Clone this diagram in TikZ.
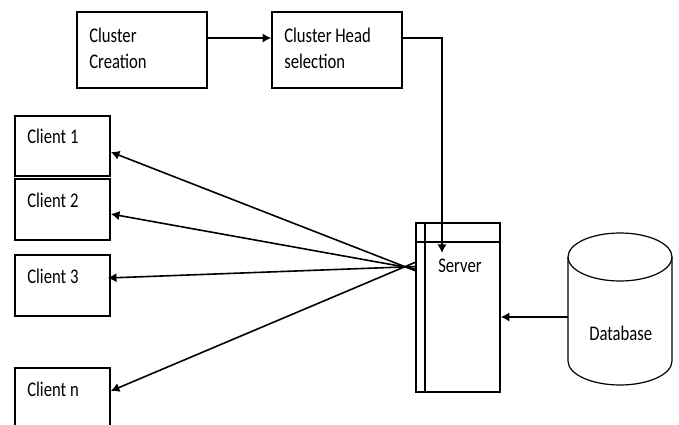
\documentclass[tikz,border=0pt]{standalone}
\usepackage{fontspec}
\setmainfont{Carlito}
\usepackage{graphicx}
\usetikzlibrary{arrows.meta,calc}
% labels are set a little taller than wide
\newcommand\tallword[1]{\scalebox{1}[1.25]{#1}}
\begin{document}
\begin{tikzpicture}[x=0.75pt,y=-0.75pt,
  box/.style={draw, line width=1.2pt, rectangle, inner sep=0pt},
  lbl/.style={anchor=base west, inner sep=0pt, font=\fontsize{12.5}{15}\selectfont},
  con/.style={line width=1.2pt, -{Latex[length=6.5pt,width=7pt]}}]
\useasboundingbox (0,0) rectangle (679,425);
\clip (0,0) rectangle (679,425);

% process boxes
\node[box, minimum width=97.5pt, minimum height=57pt] (cc) at (142,50) {};
\node[box, minimum width=97.5pt, minimum height=57pt] (ch) at (337,50) {};
\node[lbl] (cct1) at (89,42) {\tallword{Cluster}};
\node[lbl] (cct2) at (89,68) {\tallword{Creation}};
\node[lbl] (cht1) at (284,42) {\tallword{Cluster Head}};
\node[lbl] (cht2) at (284,68) {\tallword{selection}};

% clients
\node[box, minimum width=71.25pt, minimum height=45pt] (c1) at (62.5,146) {};
\node[box, minimum width=71.25pt, minimum height=45.75pt] (c2) at (62.5,209.5) {};
\node[box, minimum width=71.25pt, minimum height=45.75pt] (c3) at (62.5,285.5) {};
\node[box, minimum width=71.25pt, minimum height=45pt] (cn) at (62.5,398) {};
\node[lbl] (c1t) at (27,143) {\tallword{Client 1}};
\node[lbl] (c2t) at (27,207) {\tallword{Client 2}};
\node[lbl] (c3t) at (27,283) {\tallword{Client 3}};
\node[lbl] (cnt) at (27,396) {\tallword{Client n}};

% server
\node[box, minimum width=63pt, minimum height=126.75pt] (server) at (458,307.5) {};
\draw[line width=1.2pt] ($(server.north west)+(10,0)$) -- ($(server.south west)+(10,0)$);
\draw[line width=1.2pt] ($(server.north west)+(0,20)$) -- ($(server.north east)+(0,20)$);
\node[lbl] (servert) at (438,272) {\tallword{Server}};

% database cylinder
\draw[line width=0.9pt] (568,257) -- (568,361)
  arc[start angle=180, end angle=360, x radius=39pt, y radius=18pt] -- (672,257);
\draw[line width=0.9pt] (620,257) ellipse[x radius=39pt, y radius=18pt];
\node[inner sep=0pt, minimum width=78pt, minimum height=114pt] (db) at (620,309) {};
\node[lbl] (dbt) at (589,340) {\tallword{Database}};

% connectors
\draw[con] ($(cc.east)+(0,-12)$) -- ($(ch.west)+(0,-12)$);
\coordinate (srvin) at (442,253);
\draw[con] ($(ch.east)+(0,-12)$) -| (srvin);
\coordinate (dbport) at (db.west |- 0,317);
\draw[con] (dbport) -- (dbport -| server.east);

\coordinate (p1) at (416,271);
\coordinate (p2) at (416,269);
\coordinate (p3) at (416,266.5);
\coordinate (pn) at (416,262);
\draw[con] (p1) -- ($(c1.east)+(0,6)$);
\draw[con] (p2) -- ($(c2.east)+(0,4.5)$);
\draw[con] (p3) -- ($(c3.east)+(-3,-7.5)$);
\draw[con] (pn) -- ($(cn.east)+(0,-7)$);
\end{tikzpicture}
\end{document}
